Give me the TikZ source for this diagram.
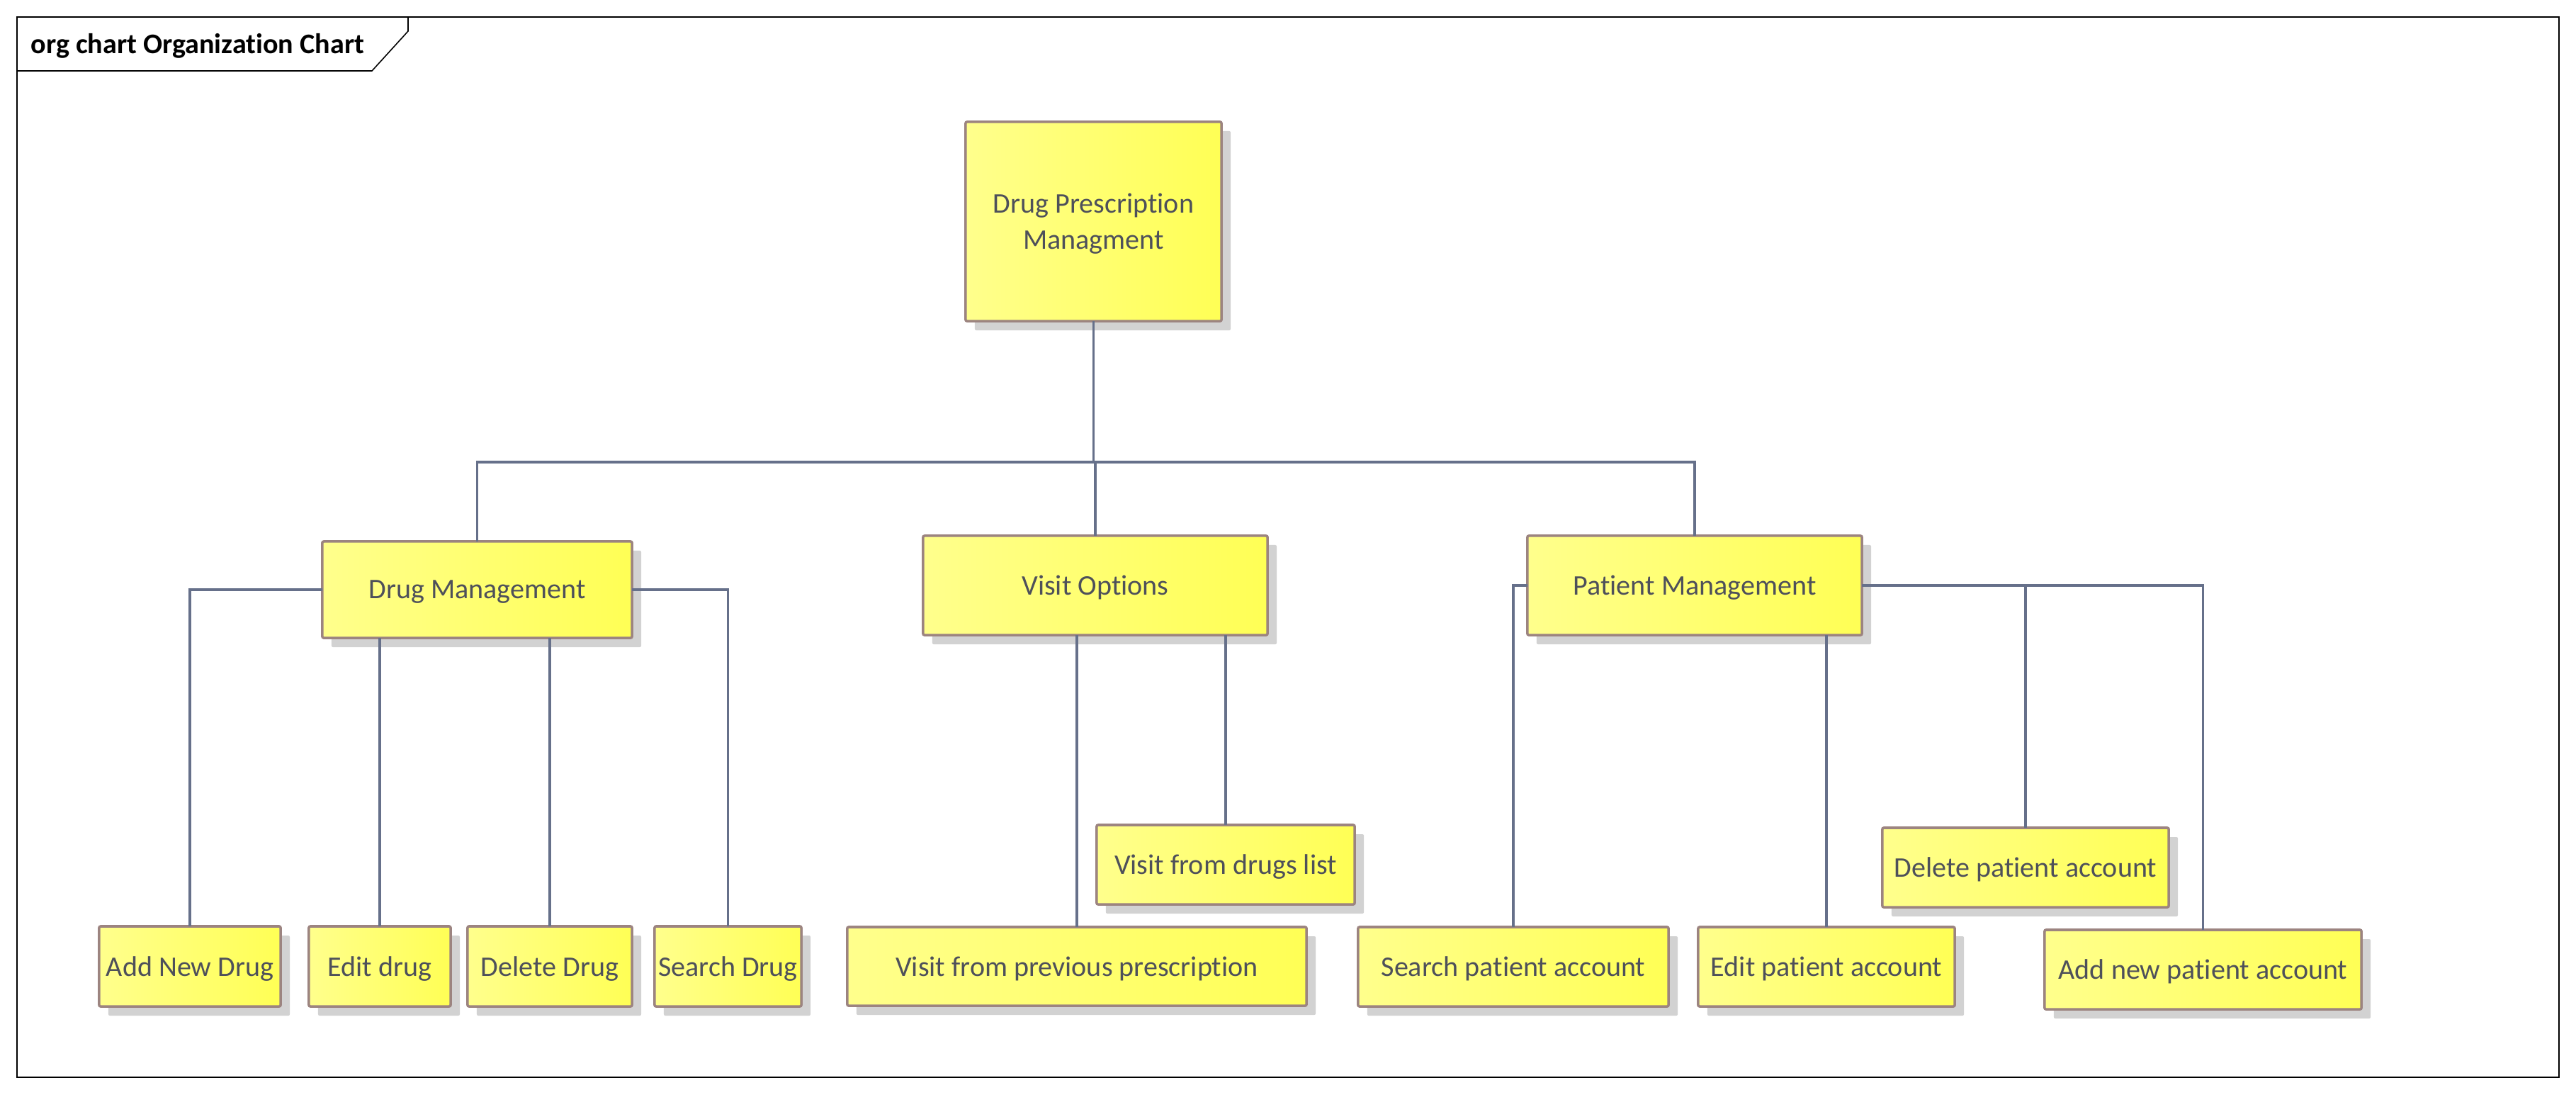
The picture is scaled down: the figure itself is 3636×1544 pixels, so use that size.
\documentclass[tikz,border=0pt]{standalone}
\usepackage{fontspec}
\setmainfont{Carlito}[Ligatures=NoCommon]
\usepackage{xcolor}
\usetikzlibrary{shadows}

\definecolor{boxline}{RGB}{156,132,128}
\definecolor{linkline}{RGB}{102,112,138}
\definecolor{boxleft}{RGB}{255,255,140}
\definecolor{boxright}{RGB}{255,255,85}
\definecolor{shadowgray}{RGB}{210,210,210}
\definecolor{textgray}{RGB}{78,80,90}

\tikzset{
  orgbox/.style={rectangle, draw=boxline, line width=1pt, rounded corners=0.6pt,
    left color=boxleft, right color=boxright, outer sep=0pt, inner sep=0pt,
    text=textgray, font=\fontsize{11.4}{14.4}\selectfont, align=center, text depth=0pt,
    drop shadow={shadow xshift=0.13cm, shadow yshift=-0.13cm, fill=shadowgray, opacity=1}},
  link/.style={draw=linkline, line width=1pt}
}

\begin{document}
\begin{tikzpicture}[x=0.01cm,y=-0.01cm]
\useasboundingbox (0,0) rectangle (3636,1544);
\draw[line width=0.55pt] (24,24) rectangle (3612,1520);
\draw[line width=0.45pt] (24,100) -- (525,100) -- (576,44) -- (576,24);
\node[anchor=base west, inner sep=0pt, font=\fontsize{11.4}{13}\selectfont\bfseries] (title) at (43,75) {org chart Organization Chart};

% top level
\node[orgbox, minimum width=3.61cm, minimum height=2.81cm] (root) at (1543.5,312.5) {Drug Prescription\\Managment};

% second level
\node[orgbox, minimum width=4.37cm, minimum height=1.36cm] (drugmgmt) at (673.5,832) {Drug Management};
\node[orgbox, minimum width=4.86cm, minimum height=1.40cm] (visitopt) at (1546,826) {Visit Options};
\node[orgbox, minimum width=4.72cm, minimum height=1.40cm] (patmgmt) at (2392,826) {Patient Management};

% drug management items
\node[orgbox, minimum width=2.56cm, minimum height=1.13cm] (adddrug) at (268,1363.5) {Add New Drug};
\node[orgbox, minimum width=2.00cm, minimum height=1.13cm] (editdrug) at (536,1363.5) {Edit drug};
\node[orgbox, minimum width=2.32cm, minimum height=1.13cm] (deldrug) at (776,1363.5) {Delete Drug};
\node[orgbox, minimum width=2.07cm, minimum height=1.13cm] (searchdrug) at (1027.5,1363.5) {Search Drug};

% visit items
\node[orgbox, minimum width=3.64cm, minimum height=1.12cm] (visitlist) at (1730,1220) {Visit from drugs list};
\node[orgbox, minimum width=6.48cm, minimum height=1.11cm] (visitprev) at (1520,1363.5) {Visit from previous prescription};

% patient items
\node[orgbox, minimum width=4.38cm, minimum height=1.12cm] (searchpat) at (2136,1364) {Search patient account};
\node[orgbox, minimum width=3.62cm, minimum height=1.12cm] (editpat) at (2578,1364) {Edit patient account};
\node[orgbox, minimum width=4.04cm, minimum height=1.12cm] (delpat) at (2859,1224) {Delete patient account};
\node[orgbox, minimum width=4.47cm, minimum height=1.12cm] (addpat) at (3109.5,1368) {Add new patient account};

% connectors
\coordinate (bus) at (1543.5,652);
\draw[link] (root.south) -- (bus) -| (drugmgmt.north);
\draw[link] (bus) -| (patmgmt.north);
\draw[link] (visitopt.north) |- (bus);

\draw[link] (drugmgmt.west) -| (adddrug.north);
\draw[link] (drugmgmt.south -| editdrug.north) -- (editdrug.north);
\draw[link] (drugmgmt.south -| deldrug.north) -- (deldrug.north);
\draw[link] (drugmgmt.east) -| (searchdrug.north);

\draw[link] (visitopt.south -| visitprev.north) -- (visitprev.north);
\draw[link] (visitopt.south -| visitlist.north) -- (visitlist.north);

\draw[link] (patmgmt.west) -| (searchpat.north);
\draw[link] (patmgmt.south -| editpat.north) -- (editpat.north);
\draw[link] (patmgmt.east) -| (addpat.north);
\draw[link] (patmgmt.east -| delpat.north) -- (delpat.north);
\end{tikzpicture}
\end{document}
